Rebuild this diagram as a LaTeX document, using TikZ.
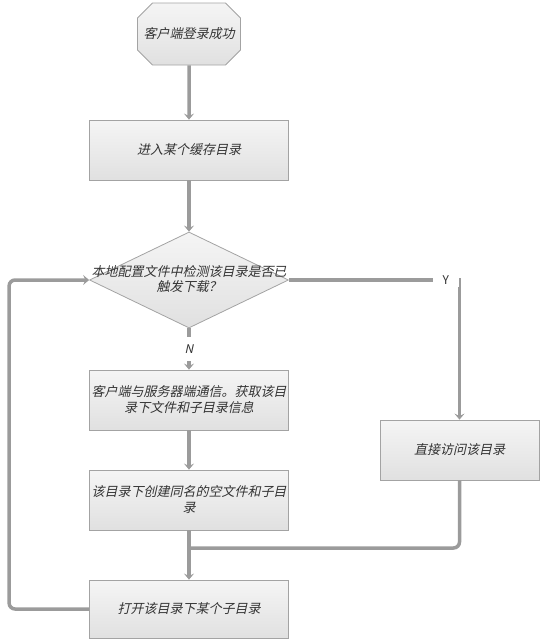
\documentclass[tikz,border=0pt]{standalone}
\usepackage{fontspec}
\usepackage{xcolor}
\usepackage{tikz}
\usetikzlibrary{arrows.meta, positioning, shapes.geometric, shapes.misc}
\newfontfamily\cjk[FakeSlant=0.22]{Noto Sans CJK SC}
\newfontfamily\cjkup{Noto Sans CJK SC}
\definecolor{wire}{HTML}{9B9B9B}
\definecolor{rim}{HTML}{A3A3A3}
\definecolor{ink}{HTML}{333333}
\tikzset{
  blk/.style={rectangle, line width=0.8pt, draw=rim, top color=black!4, bottom color=black!12,
              align=center, text=ink, font=\cjk\fontsize{13}{16}\selectfont, inner sep=0pt},
  boxb/.style={blk, minimum width=199pt, minimum height=60pt},
  startb/.style={blk, chamfered rectangle, chamfered rectangle xsep=9pt, chamfered rectangle ysep=9pt,
                 minimum width=98pt, minimum height=62pt},
  decb/.style={blk, diamond, minimum width=199pt, minimum height=96pt},
  flow/.style={-{Stealth[length=6pt, width=10pt, inset=2.5pt]}, line width=3.5pt, draw=wire},
  wireln/.style={line width=3.5pt, draw=wire, rounded corners=6pt},
  yn/.style={font=\cjk\fontsize{12}{13}\selectfont, text=ink, fill=white, inner sep=3pt},
}
\begin{document}
\begin{tikzpicture}[x=1pt, y=-1pt]
  \useasboundingbox (0,0) rectangle (540,640);
  \node[startb] (start) at (189,34) {客户端登录成功};
  \node[boxb] (enter) at (189,150) {进入某个缓存目录};
  \node[decb] (chk) at (189,280) {};
  \node[align=center, text=ink, font=\cjk\fontsize{13}{15}\selectfont, inner sep=0pt] (chkt) at (189,279)
    {本地配置文件中检测该目录是否已\\触发下载？};
  \node[boxb] (comm) at (189,400) {客户端与服务器端通信。获取该目\\录下文件和子目录信息};
  \node[boxb] (mk) at (189,500) {该目录下创建同名的空文件和子目\\录};
  \node[boxb, minimum width=159pt] (direct) at (459.5,450) {直接访问该目录};
  \node[boxb, minimum height=58pt] (open) at (189,609) {打开该目录下某个子目录};
  \coordinate (mrg) at (189,548);
  \draw[flow] (start) -- (enter);
  \draw[flow] (enter) -- (chk.north);
  \draw[flow] (chk.south) -- node[yn, minimum height=24pt]{N} (comm);
  \draw[flow] (chk.east) -| node[yn, font=\cjkup\fontsize{12}{13}\selectfont, pos=0.46, minimum width=26pt]{Y} (direct);
  \draw[flow] (comm) -- (mk);
  \draw[flow] (mk) -- (open);
  \draw[wireln] (direct.south) |- (mrg);
  \draw[flow, rounded corners=6pt] (open.west) -- ++(-80,0) |- (chk.west);
\end{tikzpicture}
\end{document}
